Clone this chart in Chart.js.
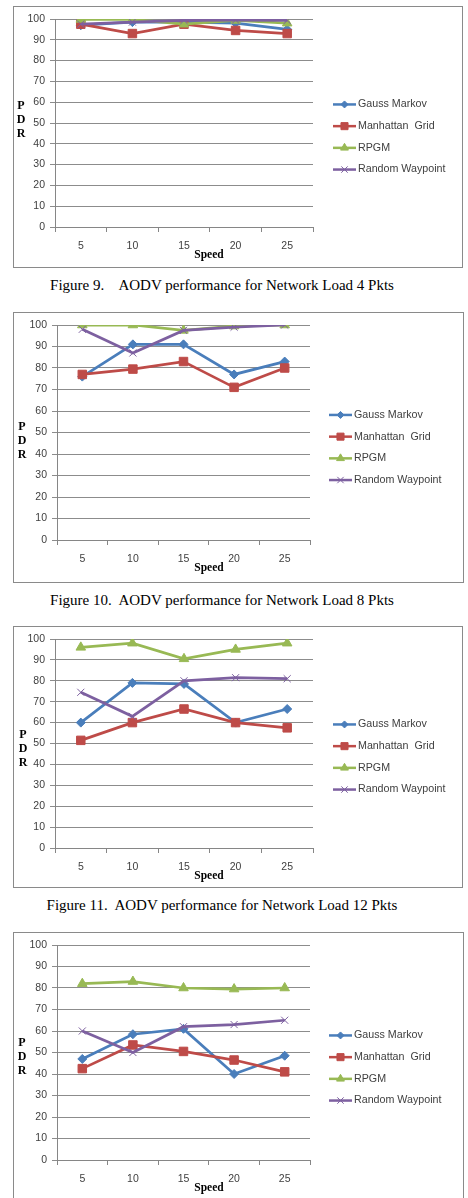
<!DOCTYPE html>
<html>
<head>
<meta charset="utf-8">
<script src="https://cdn.jsdelivr.net/npm/chart.js@4.4.1/dist/chart.umd.min.js"></script>
<style>
  body { margin: 0; width: 468px; height: 1198px; overflow: hidden; background: #fff; position: relative; }
  canvas { position: absolute; left: 13px; }
  .cap { position: absolute; left: 0; width: 444px; text-align: center; white-space: pre;
         font-family: "Liberation Serif", "Times New Roman", serif; font-size: 15px; color: #000; line-height: 16px; }
</style>
</head>
<body>
<canvas id="c1" width="450" height="262" style="top:6px"></canvas>
<div class="cap" style="top:277px" id="cap1"></div>
<canvas id="c2" width="451" height="271" style="top:312px"></canvas>
<div class="cap" style="top:592px" id="cap2"></div>
<canvas id="c3" width="450" height="262" style="top:626px"></canvas>
<div class="cap" style="top:897px" id="cap3"></div>
<canvas id="c4" width="451" height="272" style="top:932px"></canvas>
<script>
// Valores (PDR frente a velocidad)
const speeds = ['5', '10', '15', '20', '25'];
const seriesNames = ['Gauss Markov', 'Manhattan  Grid', 'RPGM', 'Random Waypoint'];
const captions = [
    'Figure 9.    AODV performance for Network Load 4 Pkts',
    'Figure 10.  AODV performance for Network Load 8 Pkts',
    'Figure 11.  AODV performance for Network Load 12 Pkts'
];

// Carga de red 4 paquetes
const gaussMarkov4 = [97, 98.5, 98.5, 98, 95];
const manhattan4 = [97.5, 93, 97.5, 94.5, 93];
const rpgm4 = [99.8, 99.8, 97.5, 99.3, 98];
const waypoint4 = [97.5, 98.5, 99.3, 99.5, 99.3];

// Carga de red 8 paquetes
const gaussMarkov8 = [76, 91, 91, 77, 83];
const manhattan8 = [77, 79.5, 83, 71, 80];
const rpgm8 = [100, 100, 97.5, 99.5, 100];
const waypoint8 = [98, 87, 97.5, 99, 100];

// Carga de red 12 paquetes
const gaussMarkov12 = [60, 79, 78.5, 60, 66.5];
const manhattan12 = [51.5, 60, 66.5, 60, 57.5];
const rpgm12 = [96, 98, 90.5, 95, 98];
const waypoint12 = [74.5, 63, 80, 81.5, 81];

// Carga de red 16 paquetes
const gaussMarkov16 = [47, 58.5, 61, 40, 48.5];
const manhattan16 = [42.5, 53.5, 50.5, 46.5, 41];
const rpgm16 = [82, 83, 80, 79.5, 80];
const waypoint16 = [60, 50, 62, 63, 65];

const colors = ['#4A7EBB', '#BE4B48', '#98B954', '#7D60A0'];
const pointStyles = ['rectRot', 'rect', 'triangle', 'crossRot'];
const pointRadius = [4.5, 6, 5.5, 5];
const legendRadius = [3.5, 5, 4.5, 4.5];

captions.forEach((c, i) => { document.getElementById('cap' + (i + 1)).textContent = c; });

// Plugin: marco, leyenda con marcador, rótulos "P D R" y "Speed"
const frameAndLabels = {
    id: 'frameAndLabels',
    beforeDraw(chart) {
        const ctx = chart.ctx;
        ctx.save();
        ctx.fillStyle = '#fff';
        ctx.fillRect(0, 0, chart.width, chart.height);
        ctx.strokeStyle = '#8a8a8a';
        ctx.lineWidth = 1;
        ctx.strokeRect(0.5, 0.5, chart.width - 1, chart.height - 1);
        ctx.restore();
    },
    afterDraw(chart, args, opts) {
        const ctx = chart.ctx;
        ctx.save();
        chart.data.datasets.forEach((ds, i) => {
            const y = chart.height / 2 + (i - 1.5) * 21.7;
            ctx.strokeStyle = colors[i];
            ctx.lineWidth = 2.5;
            ctx.beginPath();
            ctx.moveTo(opts.legendX, y);
            ctx.lineTo(opts.legendX + 23, y);
            ctx.stroke();
            ctx.fillStyle = colors[i];
            ctx.strokeStyle = colors[i];
            ctx.lineWidth = 1;
            Chart.helpers.drawPoint(ctx, {
                pointStyle: pointStyles[i], radius: legendRadius[i], rotation: 0, borderWidth: 1
            }, opts.legendX + 11.5, y);
            ctx.fillStyle = '#404040';
            ctx.font = '10.7px "Liberation Sans", Arial, sans-serif';
            ctx.textBaseline = 'middle';
            ctx.textAlign = 'left';
            ctx.fillText(ds.label, opts.legendX + 25, y);
        });
        ctx.fillStyle = '#000';
        ctx.font = 'bold 12px "Liberation Serif", "Times New Roman", serif';
        ctx.textAlign = 'center';
        ctx.textBaseline = 'middle';
        ['P', 'D', 'R'].forEach((ch, k) => ctx.fillText(ch, opts.pdrX, opts.pdrY + k * 14));
        ctx.font = 'bold 11.5px "Liberation Serif", "Times New Roman", serif';
        ctx.fillText('Speed', 196, chart.chartArea.bottom + 28);
        ctx.restore();
    }
};

function makeChart(id, series, layout) {
    const ctx = document.getElementById(id).getContext('2d');
    new Chart(ctx, {
        type: 'line',
        data: {
            labels: speeds,
            datasets: series.map((values, i) => ({
                label: seriesNames[i],
                data: values,
                borderColor: colors[i],
                backgroundColor: colors[i],
                borderWidth: 2.75,
                tension: 0,
                fill: false,
                pointStyle: pointStyles[i],
                pointRadius: pointRadius[i],
                pointBorderWidth: 1,
                pointBorderColor: colors[i],
                pointBackgroundColor: colors[i],
                order: 3 - i
            }))
        },
        options: {
            responsive: false,
            animation: false,
            devicePixelRatio: 1,
            layout: {
                padding: { left: 0, top: 13, right: layout.padRight, bottom: 0 }
            },
            scales: {
                x: {
                    type: 'category',
                    offset: true,
                    afterFit: scale => { scale.height = layout.xHeight; },
                    grid: {
                        offset: true,
                        drawOnChartArea: false,
                        drawTicks: true,
                        tickLength: 5,
                        color: '#868686'
                    },
                    border: { display: true, color: '#868686', width: 1 },
                    ticks: {
                        padding: 8,
                        color: '#404040',
                        font: { family: '"Liberation Sans", Arial, sans-serif', size: 10.5 }
                    }
                },
                y: {
                    min: 0,
                    max: 100,
                    afterFit: scale => { scale.width = layout.yWidth; },
                    grid: {
                        color: '#8c8c8c',
                        tickLength: 5,
                        lineWidth: 1
                    },
                    border: { display: true, color: '#868686', width: 1 },
                    ticks: {
                        stepSize: 10,
                        padding: 5,
                        color: '#404040',
                        font: { family: '"Liberation Sans", Arial, sans-serif', size: 10.5 }
                    }
                }
            },
            plugins: {
                legend: { display: false },
                tooltip: { enabled: false },
                title: { display: false },
                frameAndLabels: { legendX: layout.legendX, pdrX: layout.pdrX, pdrY: layout.pdrY }
            }
        },
        plugins: [frameAndLabels]
    });
}

makeChart('c1', [gaussMarkov4, manhattan4, rpgm4, waypoint4],
    { yWidth: 42, padRight: 150, xHeight: 41, legendX: 320, pdrX: 8, pdrY: 100 });
makeChart('c2', [gaussMarkov8, manhattan8, rpgm8, waypoint8],
    { yWidth: 44, padRight: 154, xHeight: 43, legendX: 316, pdrX: 9, pdrY: 115 });
makeChart('c3', [gaussMarkov12, manhattan12, rpgm12, waypoint12],
    { yWidth: 42, padRight: 150, xHeight: 40, legendX: 320, pdrX: 10, pdrY: 109 });
makeChart('c4', [gaussMarkov16, manhattan16, rpgm16, waypoint16],
    { yWidth: 44, padRight: 154, xHeight: 44, legendX: 316, pdrX: 9, pdrY: 111 });
</script>
</body>
</html>
